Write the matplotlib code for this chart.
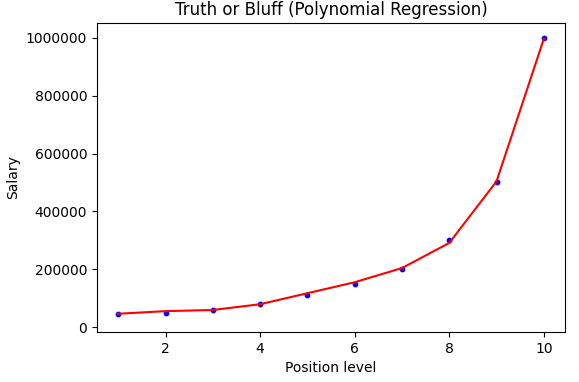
import matplotlib
matplotlib.use("Agg")
import matplotlib.pyplot as plt

position_level = [1, 2, 3, 4, 5, 6, 7, 8, 9, 10]
salary = [45000, 50000, 60000, 80000, 110000, 150000, 200000, 300000, 500000, 1000000]
predicted = [46000, 55000, 59000, 79000, 117000, 155000, 204000, 291000, 504000, 997000]

fig = plt.figure(figsize=(5.79, 3.82), dpi=100)
ax = fig.add_axes([0.1675, 0.131, 0.8085, 0.809])
ax.scatter(position_level, salary, color="blue", s=10, zorder=2)
ax.plot(position_level, predicted, color="red", linewidth=1.5, zorder=3)
ax.set_title("Truth or Bluff (Polynomial Regression)", fontsize=12)
ax.set_xlabel("Position level")
ax.set_ylabel("Salary")
ax.ticklabel_format(style="plain", axis="y")
ax.set_xlim(0.55, 10.45)
ax.set_ylim(-17000, 1052000)
fig.savefig("out.png", dpi=100)
